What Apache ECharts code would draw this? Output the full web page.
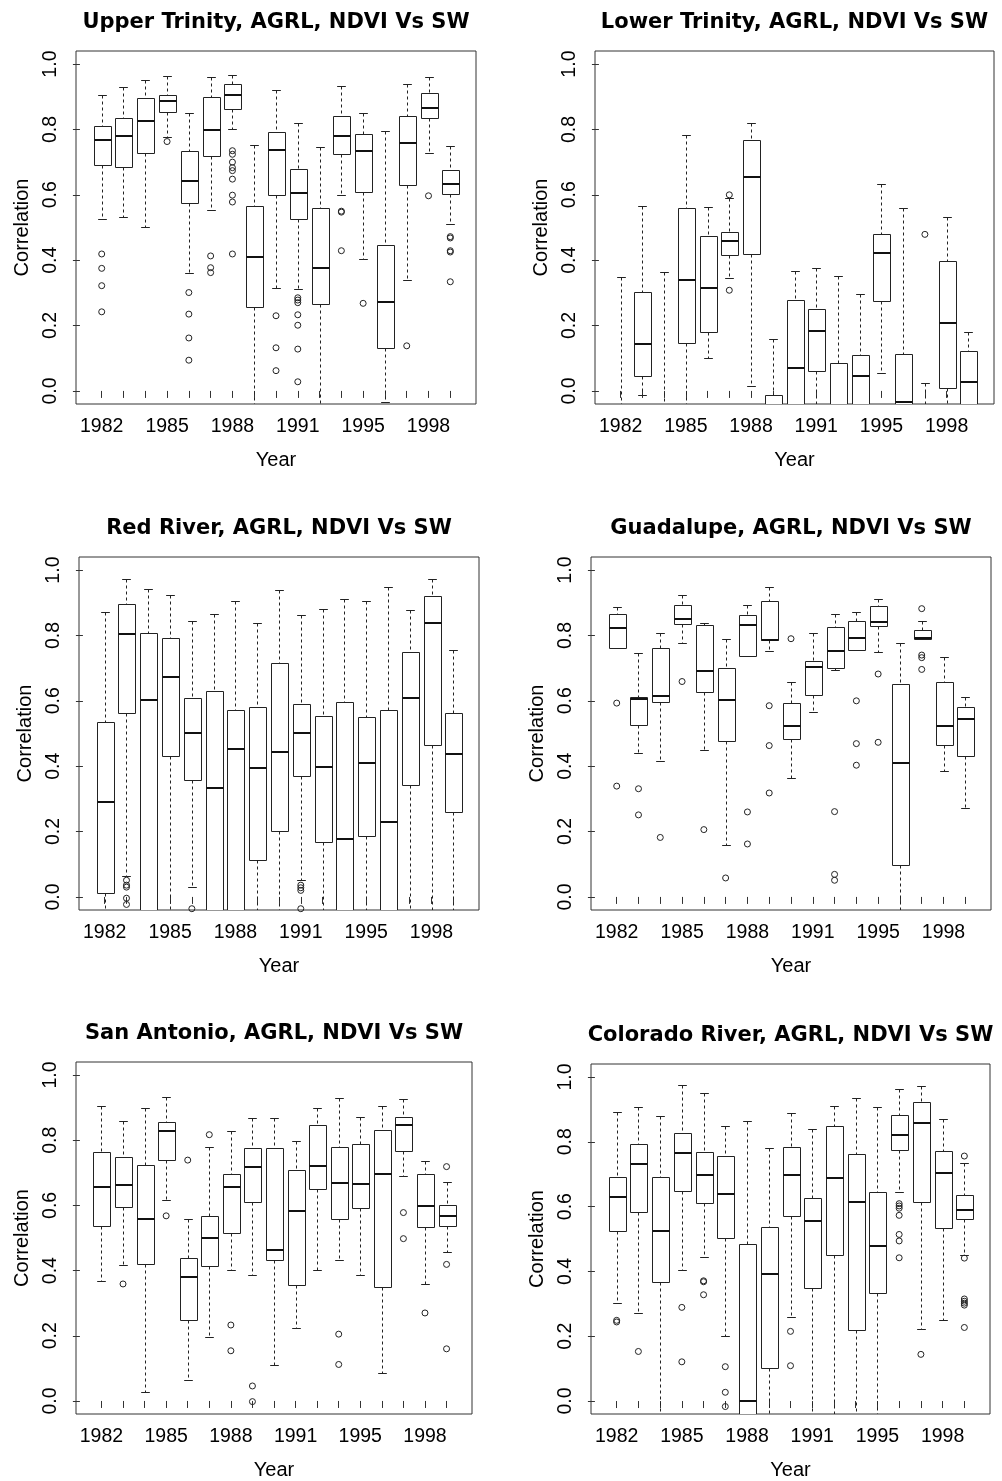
<!DOCTYPE html>
<html>
<head>
<meta charset="utf-8">
<title>AGRL, NDVI Vs SW</title>
<script src="https://cdn.jsdelivr.net/npm/echarts@6/dist/echarts.min.js"></script>
<style>
html, body { margin: 0; padding: 0; background: #fff; }
#main { width: 1002px; height: 1481px; }
</style>
</head>
<body>
<div id="main"></div>
<script>
// no 1994 in the record
var years = [1982, 1983, 1984, 1985, 1986, 1987, 1988, 1989, 1990, 1991, 1992, 1993, 1995, 1996, 1997, 1998, 1999];
var yearLabels = [1982, 1985, 1988, 1991, 1995, 1998];
var yTicks = [0, 0.2, 0.4, 0.6, 0.8, 1.0];

// [min, Q1, median, Q3, max] per year; anything under -0.04 is off the plot
var upperTrinity = [
    [0.525, 0.692, 0.769, 0.810, 0.906], [0.531, 0.684, 0.781, 0.834, 0.931], [0.503, 0.727, 0.826, 0.895, 0.952],
    [0.778, 0.854, 0.887, 0.905, 0.965], [0.360, 0.574, 0.642, 0.734, 0.851], [0.554, 0.719, 0.798, 0.899, 0.960],
    [0.801, 0.864, 0.905, 0.938, 0.968], [-0.10, 0.257, 0.409, 0.567, 0.753], [0.314, 0.600, 0.738, 0.792, 0.921],
    [0.311, 0.525, 0.605, 0.680, 0.819], [-0.10, 0.267, 0.375, 0.561, 0.746], [0.599, 0.725, 0.779, 0.840, 0.934],
    [0.403, 0.608, 0.734, 0.785, 0.849], [-0.035, 0.131, 0.273, 0.446, 0.796], [0.339, 0.631, 0.758, 0.840, 0.940],
    [0.728, 0.834, 0.865, 0.911, 0.959], [0.510, 0.603, 0.632, 0.677, 0.748]
];
var upperTrinityOut = [
    [1982, 0.419], [1982, 0.375], [1982, 0.322], [1982, 0.242], [1985, 0.763],
    [1986, 0.301], [1986, 0.235], [1986, 0.162], [1986, 0.094], [1987, 0.413], [1987, 0.377], [1987, 0.362],
    [1988, 0.735], [1988, 0.724], [1988, 0.700], [1988, 0.683], [1988, 0.674], [1988, 0.648], [1988, 0.599], [1988, 0.578], [1988, 0.419],
    [1990, 0.230], [1990, 0.132], [1990, 0.062],
    [1991, 0.285], [1991, 0.278], [1991, 0.270], [1991, 0.233], [1991, 0.201], [1991, 0.128], [1991, 0.028],
    [1993, 0.550], [1993, 0.547], [1993, 0.429], [1995, 0.268], [1997, 0.138], [1998, 0.597],
    [1999, 0.472], [1999, 0.468], [1999, 0.429], [1999, 0.425], [1999, 0.334]
];

var lowerTrinity = [
    [-0.30, -0.20, -0.12, -0.06, 0.349], [-0.011, 0.045, 0.143, 0.303, 0.567], [-0.30, -0.20, -0.12, -0.06, 0.365],
    [-0.15, 0.147, 0.339, 0.561, 0.784], [0.101, 0.181, 0.314, 0.475, 0.564], [0.346, 0.415, 0.460, 0.487, 0.591],
    [0.015, 0.418, 0.656, 0.769, 0.821], [-0.30, -0.12, -0.07, -0.011, 0.160], [-0.30, -0.10, 0.069, 0.278, 0.368],
    [-0.15, 0.060, 0.184, 0.252, 0.375], [-0.30, -0.12, -0.06, 0.086, 0.351], [-0.30, -0.10, 0.045, 0.111, 0.296],
    [0.055, 0.275, 0.421, 0.481, 0.633], [-0.30, -0.10, -0.035, 0.114, 0.561], [-0.30, -0.20, -0.12, -0.06, 0.025],
    [-0.15, 0.009, 0.209, 0.398, 0.533], [-0.20, -0.08, 0.026, 0.123, 0.180]
];
var lowerTrinityOut = [[1987, 0.600], [1987, 0.308], [1997, 0.479]];

var redRiver = [
    [-0.15, 0.012, 0.291, 0.535, 0.872], [0.065, 0.564, 0.803, 0.897, 0.973], [-0.30, -0.10, 0.601, 0.806, 0.942],
    [-0.15, 0.430, 0.673, 0.791, 0.923], [0.029, 0.357, 0.503, 0.609, 0.845], [-0.30, -0.10, 0.332, 0.630, 0.866],
    [-0.30, -0.10, 0.452, 0.571, 0.906], [-0.15, 0.114, 0.393, 0.582, 0.838], [-0.15, 0.202, 0.442, 0.717, 0.939],
    [0.051, 0.369, 0.503, 0.589, 0.863], [-0.15, 0.168, 0.396, 0.553, 0.882], [-0.30, -0.10, 0.176, 0.597, 0.910],
    [-0.15, 0.187, 0.411, 0.550, 0.905], [-0.30, -0.10, 0.228, 0.572, 0.949], [-0.15, 0.342, 0.609, 0.750, 0.877],
    [-0.15, 0.464, 0.838, 0.920, 0.973], [-0.15, 0.259, 0.437, 0.563, 0.755]
];
var redRiverOut = [
    [1983, 0.051], [1983, 0.036], [1983, 0.030], [1983, -0.004], [1983, -0.023], [1986, -0.036],
    [1991, 0.036], [1991, 0.028], [1991, 0.020], [1991, -0.036]
];

var guadalupe = [
    [0.763, 0.763, 0.823, 0.866, 0.888], [0.439, 0.526, 0.605, 0.612, 0.747], [0.415, 0.596, 0.615, 0.762, 0.806],
    [0.776, 0.835, 0.849, 0.894, 0.923], [0.449, 0.627, 0.690, 0.833, 0.837], [0.158, 0.476, 0.604, 0.699, 0.790],
    [0.736, 0.736, 0.833, 0.864, 0.892], [0.753, 0.786, 0.786, 0.906, 0.947], [0.364, 0.482, 0.522, 0.593, 0.658],
    [0.566, 0.617, 0.702, 0.721, 0.806], [0.693, 0.699, 0.753, 0.826, 0.866], [0.756, 0.756, 0.792, 0.845, 0.873],
    [0.749, 0.829, 0.842, 0.889, 0.913], [-0.15, 0.098, 0.410, 0.652, 0.778], [0.788, 0.788, 0.793, 0.816, 0.845],
    [0.386, 0.465, 0.522, 0.658, 0.735], [0.273, 0.431, 0.544, 0.580, 0.612]
];
var guadalupeOut = [
    [1982, 0.593], [1982, 0.339], [1983, 0.331], [1983, 0.251], [1984, 0.182], [1985, 0.659], [1986, 0.206],
    [1987, 0.058], [1988, 0.260], [1988, 0.162], [1989, 0.585], [1989, 0.463], [1989, 0.318], [1990, 0.790],
    [1992, 0.261], [1992, 0.069], [1992, 0.051], [1993, 0.600], [1993, 0.469], [1993, 0.403],
    [1995, 0.682], [1995, 0.473], [1997, 0.882], [1997, 0.740], [1997, 0.732], [1997, 0.696]
];

var sanAntonio = [
    [0.369, 0.538, 0.658, 0.765, 0.904], [0.416, 0.595, 0.662, 0.747, 0.860], [0.026, 0.420, 0.559, 0.724, 0.900],
    [0.616, 0.740, 0.829, 0.857, 0.933], [0.063, 0.247, 0.380, 0.439, 0.557], [0.197, 0.414, 0.499, 0.567, 0.780],
    [0.401, 0.515, 0.655, 0.696, 0.829], [0.388, 0.609, 0.717, 0.776, 0.867], [0.110, 0.434, 0.462, 0.776, 0.867],
    [0.224, 0.357, 0.583, 0.708, 0.799], [0.402, 0.651, 0.722, 0.848, 0.900], [0.434, 0.559, 0.670, 0.779, 0.930],
    [0.386, 0.591, 0.665, 0.787, 0.872], [0.085, 0.349, 0.697, 0.832, 0.905], [0.691, 0.768, 0.848, 0.872, 0.927],
    [0.360, 0.534, 0.598, 0.696, 0.737], [0.456, 0.537, 0.566, 0.600, 0.673]
];
var sanAntonioOut = [
    [1983, 0.359], [1985, 0.568], [1986, 0.739], [1987, 0.817], [1988, 0.233], [1988, 0.154],
    [1989, 0.046], [1989, -0.002], [1993, 0.205], [1993, 0.112], [1997, 0.578], [1997, 0.498],
    [1998, 0.270], [1999, 0.719], [1999, 0.419], [1999, 0.160]
];

var colorado = [
    [0.303, 0.524, 0.629, 0.690, 0.891], [0.271, 0.582, 0.731, 0.794, 0.907], [-0.15, 0.366, 0.524, 0.690, 0.879],
    [0.404, 0.649, 0.765, 0.826, 0.974], [0.445, 0.610, 0.699, 0.768, 0.949], [0.202, 0.504, 0.638, 0.756, 0.848],
    [-0.30, -0.10, 0.0, 0.484, 0.864], [-0.15, 0.103, 0.392, 0.537, 0.781], [0.259, 0.572, 0.696, 0.785, 0.889],
    [-0.15, 0.350, 0.557, 0.626, 0.839], [-0.15, 0.452, 0.687, 0.848, 0.910], [-0.15, 0.220, 0.614, 0.763, 0.935],
    [-0.15, 0.334, 0.479, 0.646, 0.907], [0.646, 0.774, 0.822, 0.883, 0.964], [0.221, 0.614, 0.858, 0.922, 0.973],
    [0.249, 0.535, 0.703, 0.772, 0.871], [0.451, 0.561, 0.590, 0.636, 0.735]
];
var coloradoOut = [
    [1982, 0.249], [1982, 0.244], [1983, 0.153], [1985, 0.289], [1985, 0.121], [1986, 0.371], [1986, 0.368], [1986, 0.328],
    [1987, 0.106], [1987, 0.027], [1987, -0.017], [1990, 0.215], [1990, 0.109],
    [1996, 0.609], [1996, 0.602], [1996, 0.595], [1996, 0.573], [1996, 0.514], [1996, 0.494], [1996, 0.442],
    [1997, 0.144], [1999, 0.756], [1999, 0.441], [1999, 0.315], [1999, 0.308], [1999, 0.302], [1999, 0.296], [1999, 0.227]
];

// plot frame of each panel, in page pixels
var panels = [
    {title: 'Upper Trinity, AGRL, NDVI Vs SW', box: upperTrinity, out: upperTrinityOut, left: 76, top: 51, width: 400, height: 353},
    {title: 'Lower Trinity, AGRL, NDVI Vs SW', box: lowerTrinity, out: lowerTrinityOut, left: 595, top: 51, width: 399, height: 353},
    {title: 'Red River, AGRL, NDVI Vs SW', box: redRiver, out: redRiverOut, left: 79, top: 557, width: 400, height: 353},
    {title: 'Guadalupe, AGRL, NDVI Vs SW', box: guadalupe, out: guadalupeOut, left: 591, top: 557, width: 400, height: 353},
    {title: 'San Antonio, AGRL, NDVI Vs SW', box: sanAntonio, out: sanAntonioOut, left: 76, top: 1062, width: 396, height: 353},
    {title: 'Colorado River, AGRL, NDVI Vs SW', box: colorado, out: coloradoOut, left: 591, top: 1064, width: 399, height: 354}
];

var ink = '#222';
var textFont = 'Liberation Sans, Arial, sans-serif';

function px(v) {
    return Math.round(v) + 0.5;
}

// R style box: dashed whiskers, short solid staples, thick median
function renderBox(params, api) {
    var x = api.value(0);
    var lo = api.coord([x, api.value(1)]);
    var q1 = api.coord([x, api.value(2)]);
    var md = api.coord([x, api.value(3)]);
    var q3 = api.coord([x, api.value(4)]);
    var hi = api.coord([x, api.value(5)]);
    var w = api.size([0.8, 0])[0];
    var cx = px(lo[0]);
    var solid = {stroke: ink, lineWidth: 1, fill: null};
    var dashed = {stroke: ink, lineWidth: 1, lineDash: [3, 3], fill: null};
    var l = Math.round(cx - w / 2) + 0.5;
    var r = Math.round(cx + w / 2) + 0.5;
    return {
        type: 'group',
        children: [
            {type: 'line', shape: {x1: cx, y1: px(hi[1]), x2: cx, y2: px(q3[1])}, style: dashed},
            {type: 'line', shape: {x1: cx, y1: px(q1[1]), x2: cx, y2: px(lo[1])}, style: dashed},
            {type: 'line', shape: {x1: cx - w / 4, y1: px(hi[1]), x2: cx + w / 4, y2: px(hi[1])}, style: solid},
            {type: 'line', shape: {x1: cx - w / 4, y1: px(lo[1]), x2: cx + w / 4, y2: px(lo[1])}, style: solid},
            {type: 'rect', shape: {x: l, y: px(q3[1]), width: r - l, height: px(q1[1]) - px(q3[1])}, style: {fill: '#fff', stroke: ink, lineWidth: 1}},
            {type: 'line', shape: {x1: l, y1: Math.round(md[1]), x2: r, y2: Math.round(md[1])}, style: {stroke: '#111', lineWidth: 2}}
        ]
    };
}

var option = {
    animation: false,
    backgroundColor: '#fff',
    title: [],
    grid: [],
    xAxis: [],
    yAxis: [],
    series: []
};

var tickPos = years.map(function (y, i) { return i + 1; });
var labelPos = yearLabels.map(function (y) { return years.indexOf(y) + 1; });

panels.forEach(function (p, i) {
    option.title.push({
        text: p.title,
        left: p.left + p.width / 2,
        top: p.top - 39,
        textAlign: 'center',
        padding: 0,
        textStyle: {fontFamily: 'DejaVu Sans', fontWeight: 'bold', fontSize: 21, color: '#000'}
    });
    option.grid.push({
        left: p.left, top: p.top, width: p.width, height: p.height,
        show: true, borderColor: '#333', borderWidth: 1, containLabel: false
    });
    option.xAxis.push({
        gridIndex: i,
        type: 'value',
        min: -0.18,
        max: 18.18,
        name: 'Year',
        nameLocation: 'middle',
        nameGap: 46,
        nameTextStyle: {fontFamily: textFont, fontSize: 20, color: '#000'},
        axisLine: {show: false},
        splitLine: {show: false},
        axisTick: {show: true, length: 7, customValues: tickPos, lineStyle: {color: '#333'}},
        axisLabel: {
            customValues: labelPos,
            margin: 13,
            fontFamily: textFont,
            fontSize: 19.5,
            color: '#000',
            formatter: function (v) { return String(years[Math.round(v) - 1]); }
        }
    });
    option.yAxis.push({
        gridIndex: i,
        type: 'value',
        min: -0.04,
        max: 1.04,
        name: 'Correlation',
        nameLocation: 'middle',
        nameGap: 44,
        nameTextStyle: {fontFamily: textFont, fontSize: 20, color: '#000'},
        axisLine: {show: false},
        splitLine: {show: false},
        axisTick: {show: true, length: 7, customValues: yTicks, lineStyle: {color: '#333'}},
        axisLabel: {
            customValues: yTicks,
            rotate: 90,
            margin: 15,
            fontFamily: textFont,
            fontSize: 19.5,
            color: '#000',
            formatter: function (v) { return v.toFixed(1); }
        }
    });
    option.series.push({
        type: 'custom',
        name: p.title,
        xAxisIndex: i,
        yAxisIndex: i,
        clip: true,
        renderItem: renderBox,
        encode: {x: 0, y: [1, 2, 3, 4, 5]},
        data: p.box.map(function (s, k) { return [k + 1].concat(s); })
    });
    option.series.push({
        type: 'scatter',
        xAxisIndex: i,
        yAxisIndex: i,
        symbol: 'circle',
        symbolSize: 6,
        clip: true,
        itemStyle: {color: 'rgba(0,0,0,0)', borderColor: ink, borderWidth: 1, opacity: 1},
        data: p.out.map(function (o) { return [years.indexOf(o[0]) + 1, o[1]]; })
    });
});

var chart = echarts.init(document.getElementById('main'), null, {renderer: 'canvas'});
chart.setOption(option);
</script>
</body>
</html>
